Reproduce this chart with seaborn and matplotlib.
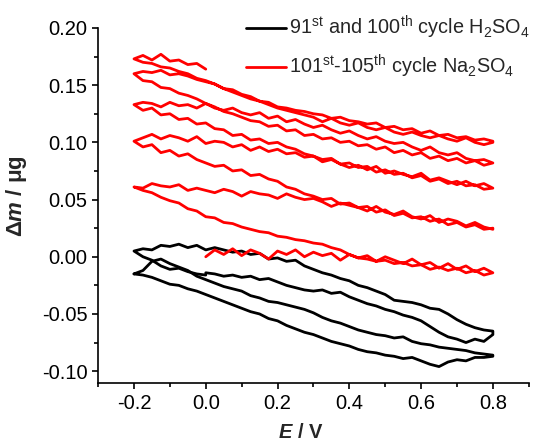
import numpy as np
import pandas as pd
import matplotlib
matplotlib.use("Agg")
import matplotlib.pyplot as plt
from matplotlib.lines import Line2D
from matplotlib.ticker import MultipleLocator, FormatStrFormatter
import seaborn as sns

# ---------------- data ----------------
# potential grid of one sweep (V)
E_GRID = [-0.200, -0.175, -0.150, -0.125, -0.100, -0.075, -0.050, -0.025,
          0.000, 0.025, 0.050, 0.075, 0.100, 0.125, 0.150, 0.175,
          0.200, 0.225, 0.250, 0.275, 0.300, 0.325, 0.350, 0.375,
          0.400, 0.425, 0.450, 0.475, 0.500, 0.525, 0.550, 0.575,
          0.600, 0.625, 0.650, 0.675, 0.700, 0.725, 0.750, 0.775, 0.800]

# ---- H2SO4, 91st and 100th cycle (black) ----
# loop 1: start at 0.0 V, positive sweep to 0.8 V (E 0.0 .. 0.8)
H_L1_POS = [-0.014, -0.015, -0.017, -0.016, -0.018, -0.017, -0.020, -0.019,
            -0.022, -0.025, -0.027, -0.029, -0.030, -0.029, -0.032, -0.031,
            -0.035, -0.038, -0.041, -0.043, -0.046, -0.048, -0.051, -0.053,
            -0.056, -0.061, -0.066, -0.070, -0.072, -0.075, -0.072, -0.074, -0.068]
# loop 1: negative sweep 0.8 -> -0.2 V (listed on E_GRID, ascending E)
H_L1_NEG = [0.005, 0.007, 0.006, 0.010, 0.009, 0.011, 0.008, 0.010,
            0.006, 0.008, 0.006, 0.004, 0.005, 0.002, 0.003, -0.002,
            -0.001, -0.004, -0.003, -0.008, -0.011, -0.014, -0.016, -0.019,
            -0.021, -0.025, -0.027, -0.030, -0.033, -0.038, -0.039, -0.040,
            -0.042, -0.045, -0.046, -0.050, -0.055, -0.059, -0.062, -0.064, -0.065]
# loop 1: closing sweep -0.2 -> 0.0 V
H_L1_END = [0.005, 0.000, -0.003, -0.008, -0.011, -0.010, -0.013, -0.015, -0.016]
# loop 2: positive sweep -0.2 -> 0.8 V
H_L2_POS = [-0.015, -0.012, -0.004, -0.002, -0.006, -0.009, -0.012, -0.017,
            -0.020, -0.023, -0.026, -0.028, -0.030, -0.034, -0.036, -0.039,
            -0.040, -0.042, -0.044, -0.046, -0.049, -0.053, -0.056, -0.058,
            -0.061, -0.064, -0.066, -0.068, -0.069, -0.071, -0.070, -0.074,
            -0.076, -0.077, -0.079, -0.080, -0.081, -0.082, -0.084, -0.085, -0.086]
# loop 2: negative sweep 0.8 -> -0.2 V (ascending E)
H_L2_NEG = [-0.015, -0.016, -0.018, -0.021, -0.024, -0.025, -0.028, -0.030,
            -0.033, -0.036, -0.039, -0.042, -0.045, -0.048, -0.050, -0.054,
            -0.056, -0.060, -0.063, -0.066, -0.068, -0.071, -0.074, -0.076,
            -0.078, -0.081, -0.083, -0.084, -0.086, -0.087, -0.089, -0.088,
            -0.091, -0.094, -0.096, -0.092, -0.090, -0.091, -0.088, -0.088, -0.087]

# ---- Na2SO4, 101st-105th cycle (red) ----
N_F1 = [0.000, 0.006, 0.002, 0.007, 0.001, 0.006, 0.003, -0.002, 0.005, 0.002,
        0.006, 0.000, 0.004, 0.001, 0.003, -0.003, 0.002, -0.001, 0.001, -0.004,
        0.000, -0.003, -0.006, -0.002, -0.007, -0.005, -0.010, -0.006, -0.011,
        -0.008, -0.013, -0.010, -0.014]          # E 0.0 .. 0.8
N_R1 = [0.061, 0.058, 0.056, 0.052, 0.049, 0.047, 0.042, 0.040, 0.035, 0.034,
        0.030, 0.029, 0.026, 0.024, 0.022, 0.021, 0.018, 0.017, 0.015, 0.014,
        0.012, 0.011, 0.008, 0.006, 0.002, -0.001, -0.002, -0.004, -0.003,
        -0.006, -0.005, -0.008, -0.007, -0.011, -0.009, -0.012, -0.010, -0.014,
        -0.012, -0.016, -0.014]
N_F2 = [0.061, 0.060, 0.064, 0.062, 0.061, 0.063, 0.058, 0.060, 0.058, 0.056,
        0.059, 0.057, 0.053, 0.057, 0.055, 0.054, 0.051, 0.055, 0.052, 0.050,
        0.051, 0.048, 0.044, 0.047, 0.045, 0.043, 0.040, 0.044, 0.039, 0.037,
        0.040, 0.035, 0.033, 0.036, 0.030, 0.033, 0.031, 0.027, 0.030, 0.026, 0.024]
N_R2 = [0.101, 0.096, 0.098, 0.091, 0.093, 0.088, 0.090, 0.085, 0.082, 0.079,
        0.080, 0.075, 0.076, 0.071, 0.072, 0.068, 0.066, 0.061, 0.059, 0.055,
        0.053, 0.050, 0.051, 0.046, 0.047, 0.043, 0.044, 0.039, 0.041, 0.036,
        0.038, 0.034, 0.035, 0.031, 0.033, 0.028, 0.030, 0.026, 0.028, 0.024, 0.025]
N_F3 = [0.101, 0.104, 0.107, 0.103, 0.106, 0.104, 0.101, 0.105, 0.099, 0.101,
        0.100, 0.096, 0.098, 0.093, 0.096, 0.092, 0.094, 0.090, 0.091, 0.087,
        0.088, 0.083, 0.085, 0.081, 0.078, 0.080, 0.076, 0.079, 0.073, 0.075,
        0.072, 0.070, 0.073, 0.067, 0.069, 0.066, 0.063, 0.066, 0.062, 0.064, 0.060]
N_R3 = [0.133, 0.128, 0.130, 0.124, 0.125, 0.120, 0.121, 0.116, 0.117, 0.112,
        0.111, 0.106, 0.107, 0.102, 0.103, 0.099, 0.100, 0.096, 0.094, 0.090,
        0.088, 0.085, 0.086, 0.081, 0.082, 0.078, 0.079, 0.074, 0.076, 0.072,
        0.073, 0.069, 0.071, 0.066, 0.068, 0.064, 0.066, 0.062, 0.063, 0.059, 0.060]
N_F4 = [0.133, 0.135, 0.134, 0.131, 0.135, 0.132, 0.133, 0.130, 0.134, 0.130,
        0.128, 0.130, 0.126, 0.124, 0.126, 0.121, 0.123, 0.118, 0.120, 0.116,
        0.113, 0.115, 0.111, 0.108, 0.110, 0.106, 0.103, 0.105, 0.101, 0.099,
        0.100, 0.096, 0.093, 0.096, 0.091, 0.089, 0.091, 0.086, 0.084, 0.085, 0.082]
N_R4 = [0.160, 0.154, 0.153, 0.148, 0.147, 0.143, 0.141, 0.138, 0.134, 0.131,
        0.127, 0.125, 0.122, 0.119, 0.118, 0.114, 0.115, 0.110, 0.111, 0.106,
        0.107, 0.103, 0.104, 0.100, 0.101, 0.097, 0.098, 0.094, 0.096, 0.091,
        0.093, 0.089, 0.091, 0.086, 0.088, 0.084, 0.086, 0.082, 0.084, 0.080, 0.082]
N_F5 = [0.160, 0.162, 0.161, 0.163, 0.159, 0.160, 0.158, 0.155, 0.153, 0.151,
        0.147, 0.144, 0.141, 0.138, 0.136, 0.133, 0.130, 0.128, 0.126, 0.124,
        0.122, 0.118, 0.121, 0.117, 0.115, 0.117, 0.113, 0.111, 0.113, 0.109,
        0.107, 0.109, 0.106, 0.104, 0.106, 0.103, 0.101, 0.104, 0.100, 0.098, 0.100]
N_R5 = [0.173, 0.170, 0.169, 0.166, 0.165, 0.162, 0.160, 0.156, 0.154, 0.151,
        0.147, 0.146, 0.142, 0.140, 0.136, 0.135, 0.131, 0.130, 0.128, 0.127,
        0.125, 0.124, 0.121, 0.122, 0.119, 0.118, 0.116, 0.117, 0.113, 0.114,
        0.111, 0.112, 0.108, 0.110, 0.106, 0.107, 0.104, 0.105, 0.102, 0.103, 0.101]
N_F6 = [0.173, 0.176, 0.172, 0.177, 0.171, 0.172, 0.168, 0.169, 0.164]  # E -0.2 .. 0.0

LABEL_H = r"91$^{\mathrm{st}}$ and 100$^{\mathrm{th}}$ cycle H$_2$SO$_4$"
LABEL_N = r"101$^{\mathrm{st}}$-105$^{\mathrm{th}}$ cycle Na$_2$SO$_4$"
COLORS = {"H": "#000000", "N": "#ff0000"}

X_TICKS = [-0.2, 0.0, 0.2, 0.4, 0.6, 0.8]
Y_TICKS = [-0.10, -0.05, 0.00, 0.05, 0.10, 0.15, 0.20]

# ---------------- assemble sweeps ----------------
E_POS_HALF = E_GRID[8:]          # 0.0 .. 0.8
E_NEG_HALF = E_GRID[:9]          # -0.2 .. 0.0
E_REV = E_GRID[::-1]


def build(parts):
    es, ys = [], []
    for e, y in parts:
        es += list(e)
        ys += list(y)
    return es, ys


h1 = build([(E_POS_HALF, H_L1_POS), (E_REV, H_L1_NEG[::-1]), (E_NEG_HALF, H_L1_END)])
h2 = build([(E_GRID, H_L2_POS), (E_REV, H_L2_NEG[::-1])])
n1 = build([(E_POS_HALF, N_F1), (E_REV, N_R1[::-1]),
            (E_GRID, N_F2), (E_REV, N_R2[::-1]),
            (E_GRID, N_F3), (E_REV, N_R3[::-1]),
            (E_GRID, N_F4), (E_REV, N_R4[::-1]),
            (E_GRID, N_F5), (E_REV, N_R5[::-1]),
            (E_NEG_HALF, N_F6)])

frames = []
for name, (e, y), ser in [("h1", h1, "H"), ("h2", h2, "H"), ("n1", n1, "N")]:
    frames.append(pd.DataFrame({"E": e, "dm": y, "trace": name, "series": ser}))
df = pd.concat(frames, ignore_index=True)

# ---------------- style ----------------
sns.set_style("ticks")
plt.rcParams["font.family"] = ["Liberation Sans", "DejaVu Sans"]
plt.rcParams["mathtext.fontset"] = "custom"
plt.rcParams["mathtext.rm"] = "Liberation Sans"
plt.rcParams["mathtext.it"] = "Liberation Sans:italic"
plt.rcParams["mathtext.bf"] = "Liberation Sans:bold"
plt.rcParams["mathtext.bfit"] = "Liberation Sans:italic:bold"
plt.rcParams["axes.unicode_minus"] = False

fig = plt.figure(figsize=(5.39, 4.44), dpi=100)
ax = fig.add_axes([0.182, 0.137, 0.799, 0.800])

LW = 2.0
for tr in ["h1", "h2", "n1"]:
    sub = df[df["trace"] == tr]
    ser = sub["series"].iloc[0]
    sns.lineplot(data=sub, x="E", y="dm", sort=False, estimator=None,
                 color=COLORS[ser], lw=LW, ax=ax, legend=False)

ax.set_xlim(-0.3, 0.9)
ax.set_ylim(-0.1105, 0.20)
ax.set_xticks(X_TICKS)
ax.set_yticks(Y_TICKS)
ax.xaxis.set_major_formatter(FormatStrFormatter("%.1f"))
ax.yaxis.set_major_formatter(FormatStrFormatter("%.2f"))
ax.xaxis.set_minor_locator(MultipleLocator(0.1))
ax.yaxis.set_minor_locator(MultipleLocator(0.025))

for s in ["top", "right"]:
    ax.spines[s].set_visible(False)
for s in ["left", "bottom"]:
    ax.spines[s].set_linewidth(1.2)
    ax.spines[s].set_color("black")

ax.tick_params(axis="both", which="major", direction="out", length=4.5,
               width=1.2, labelsize=14.5, colors="black", pad=3.0)
ax.tick_params(axis="both", which="minor", direction="out", length=2.8,
               width=1.2, colors="black")

ax.set_xlabel(r"$\mathbfit{E}$ / V", fontsize=14.5, fontweight="bold")
ax.set_ylabel(r"Δ$\mathbfit{m}$ / μg", fontsize=16, fontweight="bold")
ax.xaxis.set_label_coords(0.471, -0.112)
ax.yaxis.set_label_coords(-0.160, 0.527)

handles = [Line2D([0], [0], color=COLORS["H"], lw=LW),
           Line2D([0], [0], color=COLORS["N"], lw=LW)]
fig.legend(handles, [LABEL_H, LABEL_N], loc="upper left",
           bbox_to_anchor=(246 / 539, 1 - 14 / 444), frameon=False,
           fontsize=14.3, handlelength=2.0, handletextpad=0.15,
           labelspacing=0.6, borderpad=0, borderaxespad=0)

fig.savefig("out.png", dpi=100, facecolor="white")
